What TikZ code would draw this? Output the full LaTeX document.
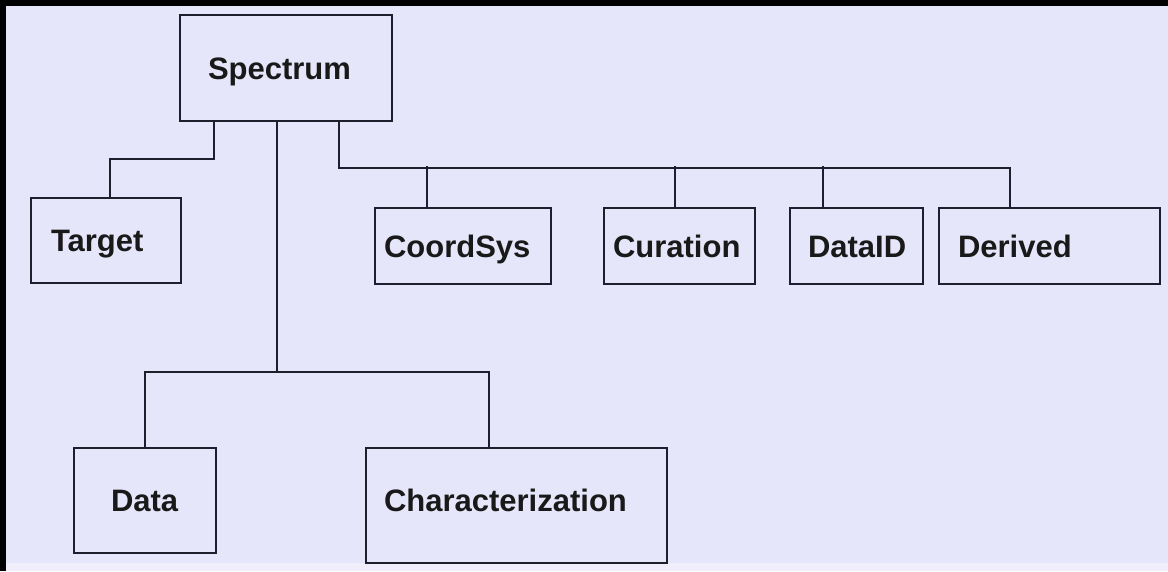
\documentclass[tikz,border=0pt]{standalone}
\usepackage{fontspec}
\setmainfont{Liberation Sans}
\definecolor{bgcol}{RGB}{230,230,250}
\definecolor{bgedge}{RGB}{240,238,250}
\definecolor{linecol}{RGB}{30,30,44}

\tikzset{
  cls/.style n args={3}{draw=linecol, line width=2pt, anchor=north west,
    minimum height=#1, inner ysep=0pt, inner xsep=#2, text width=#3,
    text height=22pt, text depth=0pt,
    align=left, font=\fontsize{31}{36}\selectfont\bfseries, text=black!90},
  link/.style={draw=linecol, line width=2pt}
}

\begin{document}
\begin{tikzpicture}[x=1pt,y=-1pt]

\useasboundingbox (0,0) rectangle (1168,571);
\fill [black] (0,0) rectangle (1168,571);
\fill [bgcol] (6,6) rectangle (1168,571);
\fill [bgedge] (6,563) rectangle (1168,571);

% top class
\node [cls={106pt}{28pt}{156pt}] (spectrum) at (179,14) {Spectrum};

% second row
\node [cls={85pt}{20pt}{110pt}] (target) at (30,197) {Target};
\node [cls={76pt}{9pt}{158pt}] (coordsys) at (374,207) {CoordSys};
\node [cls={76pt}{9pt}{133pt}] (curation) at (603,207) {Curation};
\node [cls={76pt}{18pt}{97pt}] (dataid) at (789,207) {DataID};
\node [cls={76pt}{19pt}{183pt}] (derived) at (938,207) {Derived};

% bottom row
\node [cls={105pt}{37pt}{68pt}] (data) at (73,447) {Data};
\node [cls={115pt}{18pt}{265pt}, text depth=10pt] (charac) at (365,447) {Characterization};

% tree lines
\draw [link] ([xshift=35pt]spectrum.south west) -- ++(0,37) -| ([xshift=80pt]target.north west);

\draw [link] ([xshift=98pt]spectrum.south west) -- ++(0,250) coordinate (fork);
\draw [link] (data.north) |- (fork) -| ([xshift=124pt]charac.north west);

\draw [link] ([xshift=160pt]spectrum.south west) -- ++(0,46) -| ([xshift=72pt]derived.north west);
\foreach \n/\dx in {coordsys/53, curation/72, dataid/34}
  \draw [link] ([xshift=\dx pt]\n.north west) -- ++(0,-41);

\end{tikzpicture}
\end{document}
